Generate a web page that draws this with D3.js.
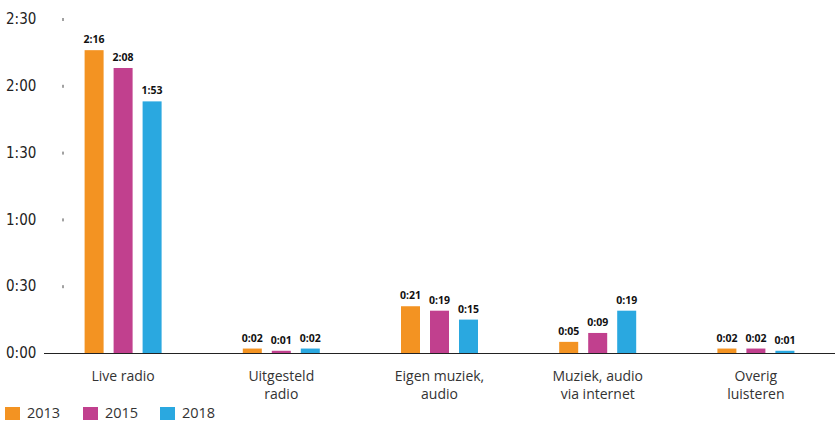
<!DOCTYPE html>
<html><head><meta charset="utf-8">
<script src="https://cdn.jsdelivr.net/npm/d3@7"></script>
<style>body{margin:0;background:#fff}svg{display:block}</style>
</head><body><svg id="c" width="835" height="421"></svg>
<script>
const categories = [["Live radio"],["Uitgesteld","radio"],["Eigen muziek,","audio"],["Muziek, audio","via internet"],["Overig","luisteren"]];
const series = ["2013","2015","2018"];
const colors = ["#F39322","#C1408E","#2AA8E0"];
const v2013 = [136,2,21,5,2];
const v2015 = [128,1,19,9,2];
const v2018 = [113,2,15,19,1];
const tickValues = [0,30,60,90,120,150];
const tickLabels = ["0:00","0:30","1:00","1:30","2:00","2:30"];
const values = [v2013,v2015,v2018];
const fmt = m => Math.floor(m/60)+":"+String(m%60).padStart(2,"0");

const svg = d3.select("#c");
const x = d3.scaleBand().domain(d3.range(categories.length)).range([44,835]);
const y = d3.scaleLinear().domain([0,150]).range([353,19]);
const bw = 19, step = 29;

// y axis ticks
const ya = svg.append("g");
tickValues.forEach((t,i)=>{
  if(t>0) ya.append("line").attr("x1",63).attr("x2",63).attr("y1",y(t)-1).attr("y2",y(t)+2).attr("stroke","#444").attr("stroke-width",1);
  ya.append("text").attr("x",6).attr("y",y(t)).attr("dy","0.35em")
    .attr("font-family","'Liberation Sans Narrow','DejaVu Sans Condensed',sans-serif").attr("font-size",15)
    .attr("fill","#222").text(tickLabels[i]);
});

values.forEach((vals,si)=>{
  const g = svg.append("g");
  vals.forEach((v,ci)=>{
    const cx = x(ci)+x.bandwidth()/2 + (si-1)*step;
    g.append("rect").attr("x",cx-bw/2).attr("y",y(v)).attr("width",bw).attr("height",y(0)-y(v)).attr("fill",colors[si]);
    g.append("text").attr("x",cx).attr("y",y(v)-7).attr("text-anchor","middle")
      .attr("font-family","'Open Sans',sans-serif").attr("font-weight","bold").attr("font-size",10.5)
      .attr("fill","#111").text(fmt(v));
  });
});

svg.append("line").attr("x1",44).attr("x2",835).attr("y1",y(0)+0.5).attr("y2",y(0)+0.5).attr("stroke","#222").attr("stroke-width",1);

categories.forEach((lines,ci)=>{
  const t = svg.append("text").attr("text-anchor","middle")
    .attr("font-family","'Open Sans',sans-serif").attr("font-size",14).attr("fill","#333");
  lines.forEach((l,li)=>{
    t.append("tspan").attr("x",x(ci)+x.bandwidth()/2).attr("y",381+li*18).text(l);
  });
});

const leg = svg.append("g");
const lx = [5,83,160];
series.forEach((s,i)=>{
  leg.append("rect").attr("x",lx[i]).attr("y",407).attr("width",15).attr("height",13).attr("fill",colors[i]);
  leg.append("text").attr("x",lx[i]+22).attr("y",418).attr("font-family","'Open Sans',sans-serif")
    .attr("font-size",14.5).attr("fill","#333").text(s);
});
</script></body></html>
